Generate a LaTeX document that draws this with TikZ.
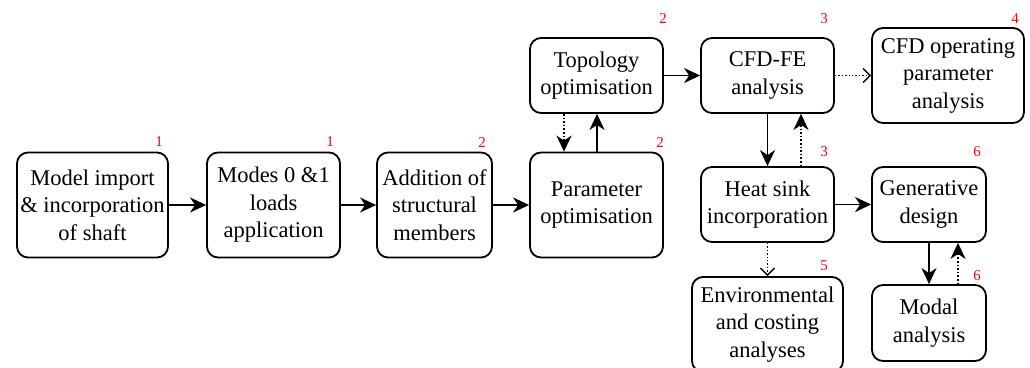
\documentclass[tikz,border=0pt]{standalone}
\usepackage{fontspec}
\setmainfont{Liberation Serif}
\newfontfamily\tnr{Liberation Serif}
\usetikzlibrary{arrows.meta}
\tikzset{
  box/.style={draw, line width=1.8pt, rounded corners=11pt, align=center, inner sep=0pt,
    font=\tnr\fontsize{22.5}{27.5}\selectfont},
  num/.style={text=red, font=\tnr\fontsize{15}{15}\selectfont, inner sep=0pt},
  flow/.style={line width=1.6pt, -{Stealth[length=16pt,width=15pt,inset=5pt]}},
  back/.style={line width=1.6pt, dotted, -{Stealth[length=16pt,width=15pt,inset=5pt]}},
  side/.style={line width=1.4pt, dotted, -{Straight Barb[length=7pt,width=14pt,line width=1.4pt]}},
}
\begin{document}
\begin{tikzpicture}[x=1pt,y=-1pt]
\useasboundingbox (0,0) rectangle (1030,367);
\clip (0,0) rectangle (1030,367);
\node[box, minimum width=151pt, minimum height=105pt] (b1) at (92.5,205) {Model import\\\& incorporation\\of shaft};
\node[box, minimum width=133pt, minimum height=105pt] (b2) at (273.5,205) {Modes 0 \&1\\loads\\application};
\node[box, minimum width=115pt, minimum height=105pt] (b3) at (434.5,205) {Addition of\\structural\\members};
\node[box, minimum width=133pt, minimum height=105pt] (b4) at (596.5,205) {Parameter\\optimisation};
\node[box, minimum width=133pt, minimum height=75pt] (top) at (596.5,75.5) {Topology\\optimisation};
\node[box, minimum width=133pt, minimum height=75pt] (cfd) at (767.5,75.5) {CFD-FE\\analysis};
\node[box, minimum width=152pt, minimum height=95pt] (op) at (948,75.5) {CFD operating\\parameter\\analysis};
\node[box, minimum width=133pt, minimum height=75pt] (hs) at (767.5,204.5) {Heat sink\\incorporation};
\node[box, minimum width=114pt, minimum height=75pt] (gen) at (929,204.5) {Generative\\design};
\node[box, minimum width=151pt, minimum height=95pt] (env) at (767.5,324.5) {Environmental\\and costing\\analyses};
\node[box, minimum width=114pt, minimum height=76pt] (mod) at (929,323) {Modal\\analysis};

\node[num] (n1) at (159,142) {1};
\node[num] (n2) at (330,142) {1};
\node[num] (n3) at (482,143) {2};
\node[num] (n4) at (660,143) {2};
\node[num] (n5) at (663,19) {2};
\node[num] (n6) at (824,19) {3};
\node[num] (n7) at (1015,19) {4};
\node[num] (n8) at (824,152) {3};
\node[num] (n9) at (977,152) {6};
\node[num] (n10) at (824,266) {5};
\node[num] (n11) at (977,276) {6};

\draw[flow] (b1) -- (b2);
\draw[flow] (b2) -- (b3);
\draw[flow] (b3) -- (b4);
\draw[flow] (b4.north -| 597,0) -- (top.south -| 597,0);
\draw[back] (top.south -| 564,0) -- (b4.north -| 564,0);
\draw[flow] (top) -- (cfd);
\draw[side] (cfd) -- (op);
\draw[flow] (cfd.south) -- (hs.north);
\draw[back] (hs.north -| 801,0) -- (cfd.south -| 801,0);
\draw[flow] (hs) -- (gen);
\draw[side] (hs.south) -- (env.north);
\draw[flow] (gen.south) -- (mod.north);
\draw[back] (mod.north -| 958,0) -- (gen.south -| 958,0);
\end{tikzpicture}
\end{document}
